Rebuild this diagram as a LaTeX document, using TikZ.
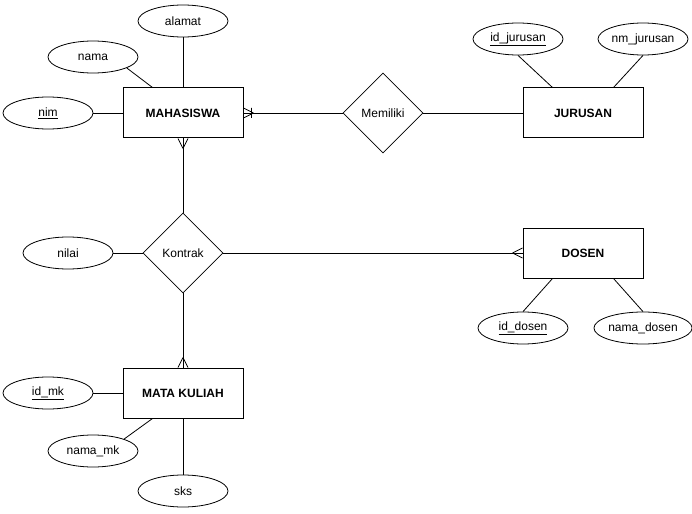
\documentclass[tikz,border=0pt]{standalone}
\usepackage{fontspec}
\setmainfont{Liberation Sans}
\usetikzlibrary{shapes.geometric,calc}
\begin{document}
\begin{tikzpicture}[x=1pt,y=-1pt,
  ent/.style={draw, line width=1pt, minimum width=120pt, minimum height=50pt, inner sep=0pt,
    font=\bfseries\fontsize{12}{14}\selectfont},
  attr/.style={draw, line width=0.8pt, ellipse, minimum width=90pt, minimum height=32pt, inner sep=0pt,
    font=\fontsize{12}{14}\selectfont},
  rel/.style={draw, line width=0.8pt, diamond, aspect=1, minimum width=80pt, minimum height=80pt, inner sep=0pt,
    font=\fontsize{12}{14}\selectfont},
  conn/.style={line width=0.8pt, draw=black},
  crow/.pic={\draw[conn] (10,0) -- (0,-5) (10,0) -- (0,5);},
  crowone/.pic={\draw[conn] (10,0) -- (0,-5) (10,0) -- (0,5) (8,-5) -- (8,5);}
]
\useasboundingbox (0,0) rectangle (692,513);

% entities
\node[ent] (mhs) at (183,113) {MAHASISWA};
\node[ent] (jur) at (583,113) {JURUSAN};
\node[ent] (dos) at (583,253) {DOSEN};
\node[ent] (mk)  at (183,393) {MATA KULIAH};

% relationships
\node[rel] (mem) at (383,113) {Memiliki};
\node[rel] (kon) at (183,253) {Kontrak};

% attributes
\node[attr] (alamat) at (183,21) {alamat};
\node[attr] (nama) at (93,57) {nama};
\node[attr] (nim) at (48,113) {\underline{nim}};
\node[attr] (idjur) at (518,39) {\underline{id\_jurusan}};
\node[attr] (nmjur) at (643,39) {nm\_jurusan};
\node[attr] (nilai) at (68,253) {nilai};
\node[attr] (iddos) at (523,328) {\underline{id\_dosen}};
\node[attr] (nmdos) at (643,328) {nama\_dosen};
\node[attr] (idmk) at (48,393) {\underline{id\_mk}};
\node[attr] (nmmk) at (93,451) {nama\_mk};
\node[attr] (sks) at (183,491) {sks};

% attribute connectors
\draw[conn] (alamat.south) -- (mhs.north);
\draw[conn] (nama.-18) -- ($(mhs.north west)+(30,0)$);
\draw[conn] (nim.east) -- (mhs.west);
\draw[conn] (idjur.south) -- ($(jur.north west)+(30,0)$);
\draw[conn] (nmjur.south) -- ($(jur.north east)+(-30,0)$);
\draw[conn] (nilai.east) -- (kon.west);
\draw[conn] (iddos.north) -- ($(dos.south west)+(30,0)$);
\draw[conn] (nmdos.north) -- ($(dos.south east)+(-30,0)$);
\draw[conn] (idmk.east) -- (mk.west);
\draw[conn] (nmmk.21) -- ($(mk.south west)+(30,0)$);
\draw[conn] (sks.north) -- (mk.south);

% relationship connectors
\draw[conn] (mhs.east) -- (mem.west);
\draw[conn] (mem.east) -- (jur.west);
\draw[conn] (kon.north) -- (mhs.south);
\draw[conn] (kon.east) -- (dos.west);
\draw[conn] (kon.south) -- (mk.north);

% crow's feet
\pic at (mhs.east) {crowone};
\pic[rotate=-90] at (mhs.south) {crow};
\pic[rotate=180] at (dos.west) {crow};
\pic[rotate=90] at (mk.north) {crow};
\end{tikzpicture}
\end{document}
